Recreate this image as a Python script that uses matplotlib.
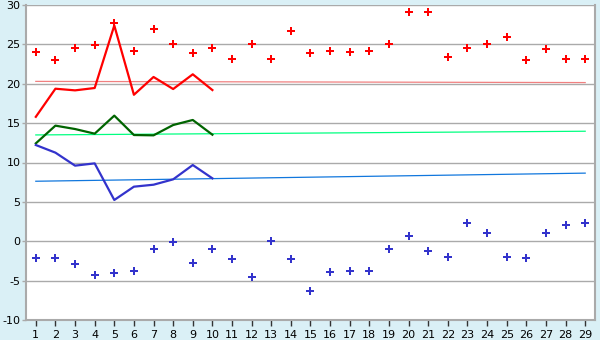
import matplotlib
matplotlib.use("Agg")
import matplotlib.pyplot as plt
import numpy as np

days = list(range(1, 30))
red_points = [24.0, 23.0, 24.6, 24.9, 27.7, 24.2, 26.95, 25.1, 23.9, 24.5,
              23.1, 25.0, 23.2, 26.65, 23.85, 24.1, 24.0, 24.1, 25.1, 29.05,
              29.05, 23.35, 24.6, 25.0, 26.0, 22.97, 24.4, 23.2, 23.2]
blue_points = [-2.17, -2.17, -2.93, -4.33, -4.07, -3.78, -1.03, -0.1, -2.8, -1.03,
               -2.3, -4.58, 0.0, -2.3, -6.36, -3.95, -3.78, -3.78, -1.03, 0.63,
               -1.28, -2.04, 2.28, 1.0, -2.04, -2.17, 1.0, 2.02, 2.28]
line_days = list(range(1, 11))
red_line = [15.8, 19.37, 19.16, 19.46, 27.4, 18.6, 20.86, 19.33, 21.2, 19.2]
green_line = [12.43, 14.68, 14.25, 13.66, 15.95, 13.49, 13.45, 14.76, 15.4, 13.53]
blue_line = [12.22, 11.25, 9.6, 9.89, 5.24, 6.93, 7.18, 7.86, 9.68, 7.99]
trend_days = [1, 29]
red_trend = [20.3, 20.15]
green_trend = [13.5, 13.97]
blue_trend = [7.62, 8.65]
yticks = list(range(-10, 31, 5))

bg = '#daf0f6'
fig = plt.figure(figsize=(6, 3.4), dpi=100, facecolor=bg)
ax = fig.add_axes([26/600, 1-320/340, (595-26)/600, (320-5)/340])
ax.set_facecolor('white')

for y in yticks:
    ax.axhline(y, color='#aaaaaa', lw=1.0, zorder=1)

ax.plot(trend_days, red_trend, color='#f08080', lw=0.9, zorder=2)
ax.plot(trend_days, green_trend, color='#00ff80', lw=0.9, zorder=2)
ax.plot(trend_days, blue_trend, color='#1177dd', lw=0.9, zorder=2)

ax.plot(line_days, red_line, color='#ff0000', lw=1.6, zorder=3)
ax.plot(line_days, green_line, color='#006400', lw=1.6, zorder=3)
ax.plot(line_days, blue_line, color='#3333cc', lw=1.6, zorder=3)

ax.plot(days, red_points, ls='none', marker='P', ms=5.5, color='#ff0000',
        mec='#ff0000', mew=0, zorder=4)
ax.plot(days, blue_points, ls='none', marker='P', ms=5.5, color='#3333cc',
        mec='#3333cc', mew=0, zorder=4)

ax.set_xlim(0.5, 29.5)
ax.set_ylim(-10, 30)
ax.set_xticks(days)
ax.set_yticks(yticks)
ax.set_yticklabels([str(v) for v in yticks])
ax.tick_params(axis='x', length=4, width=1, color='#333333', labelsize=8,
               pad=3, labelcolor='black')
ax.tick_params(axis='y', length=3, width=1, color='#aaaaaa', labelsize=8,
               pad=1, labelcolor='black')
for s in ['left', 'right', 'bottom']:
    ax.spines[s].set_color('#aaaaaa')
    ax.spines[s].set_linewidth(1.5)
ax.spines['top'].set_visible(False)

fig.savefig('out.png', dpi=100, facecolor=bg)
